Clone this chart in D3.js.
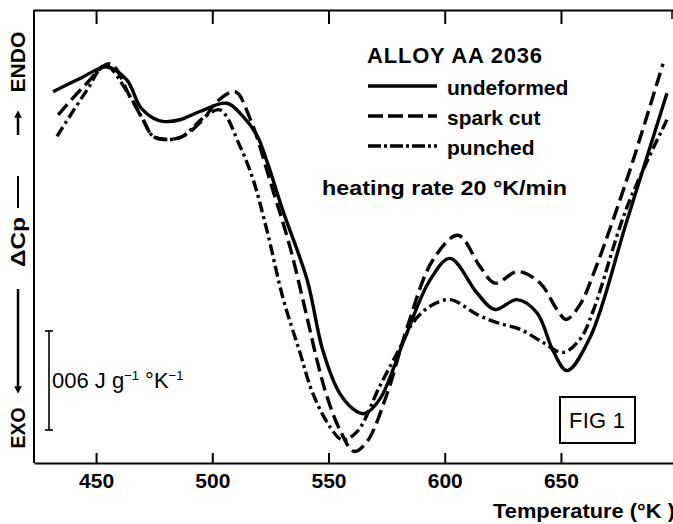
<!DOCTYPE html>
<html>
<head>
<meta charset="utf-8">
<script src="https://cdn.jsdelivr.net/npm/d3@7"></script>
<style>
  body { margin: 0; background: #fff; }
  svg { display: block; font-family: 'Liberation Sans', Arial, sans-serif; }
</style>
</head>
<body>
<div id="chart"></div>
<script>
// temperatures in K, delta Cp in J/g/K (arbitrary zero)
const xTicks = [450, 500, 550, 600, 650];
const seriesNames = ['undeformed', 'spark cut', 'punched'];

const undeformedT = [431.5, 443.1, 454.7, 463.3, 468.9, 474.5, 478.8, 486.1, 494.7, 506.3, 513.2,
  519.4, 523.7, 530.6, 540.8, 547.6, 554.9, 562.3, 565.7, 572.2, 582.9, 593.7, 602.3, 613.9,
  621.6, 631.1, 639.7, 646.6, 652.6, 662.5, 678.4, 695.6];
const undeformedCp = [0.225, 0.233, 0.240, 0.232, 0.216, 0.209, 0.207, 0.208, 0.213, 0.218, 0.210,
  0.198, 0.182, 0.152, 0.111, 0.068, 0.042, 0.031, 0.030, 0.039, 0.076, 0.111, 0.124, 0.103,
  0.093, 0.099, 0.091, 0.068, 0.056, 0.076, 0.147, 0.224];

const sparkCutT = [433.7, 445.3, 456.0, 464.6, 470.2, 474.5, 480.5, 487.4, 496.0, 502.0, 509.8,
  516.2, 525.7, 533.4, 540.8, 545.1, 549.4, 554.9, 561.0, 566.6, 575.2, 583.8, 594.9,
  605.7, 615.2, 621.6, 631.5, 641.0, 648.3, 652.2, 658.2, 663.8, 678.4, 693.9];
const sparkCutCp = [0.211, 0.229, 0.242, 0.222, 0.208, 0.198, 0.196, 0.198, 0.208, 0.219, 0.225,
  0.209, 0.167, 0.131, 0.088, 0.062, 0.040, 0.020, 0.007, 0.013, 0.042, 0.082, 0.123,
  0.138, 0.119, 0.109, 0.116, 0.109, 0.093, 0.087, 0.096, 0.114, 0.172, 0.242];

const punchedT = [433.2, 446.1, 453.9, 464.6, 470.2, 474.5, 480.5, 487.4, 496.0, 503.3, 511.9,
  517.5, 523.5, 530.4, 537.7, 543.3, 550.6, 556.0, 562.3, 572.2, 580.8, 586.3, 593.7, 602.3,
  613.9, 622.5, 632.4, 642.3, 650.9, 658.2, 663.8, 678.4, 695.6];
const punchedCp = [0.198, 0.226, 0.241, 0.222, 0.208, 0.198, 0.196, 0.198, 0.209, 0.214, 0.192,
  0.172, 0.141, 0.100, 0.067, 0.042, 0.022, 0.014, 0.019, 0.047, 0.070, 0.085, 0.095, 0.099,
  0.090, 0.085, 0.081, 0.073, 0.067, 0.075, 0.092, 0.155, 0.208];

const scaleBar = [0.02, 0.08]; // 0.06 J/g/K

var width = 673;
var height = 524;
// note: "top" is taken by window.top, so plot edges get their own names
var plotLeft = 34, plotRight = 673, plotTop = 10, plotBottom = 463;

var xScale = d3.scaleLinear()
  .domain([423.3, 698.2])
  .range([plotLeft, plotRight]);

var yScale = d3.scaleLinear()
  .domain([0, 0.2745])
  .range([plotBottom, plotTop]);

var dashes = ['none', '14,6', '11,4,3,4'];
var legendDashes = ['none', '15,5', '13,3,3,3'];

var series = [
  d3.zip(undeformedT, undeformedCp),
  d3.zip(sparkCutT, sparkCutCp),
  d3.zip(punchedT, punchedCp)
];

var svg = d3.select('#chart')
  .append('svg')
  .attr('width', width)
  .attr('height', height)
  .style('background-color', '#fff');

// frame
svg.append('line')
  .attr('x1', plotLeft).attr('x2', plotLeft)
  .attr('y1', plotTop).attr('y2', plotBottom)
  .attr('stroke', '#000').attr('stroke-width', 2);
svg.append('line')
  .attr('x1', 672).attr('x2', 672)
  .attr('y1', plotTop).attr('y2', plotTop + 9)
  .attr('stroke', '#000').attr('stroke-width', 1.5);

var xAxis = svg.append('g')
  .attr('transform', 'translate(0,' + plotBottom + ')')
  .call(d3.axisBottom(xScale)
    .tickValues(xTicks)
    .tickSizeInner(-10)
    .tickSizeOuter(0)
    .tickPadding(10));

var topAxis = svg.append('g')
  .attr('transform', 'translate(0,' + plotTop + ')')
  .call(d3.axisTop(xScale)
    .tickValues(xTicks)
    .tickSizeInner(-14)
    .tickSizeOuter(0)
    .tickFormat(''));

[xAxis, topAxis].forEach(function (g) {
  g.select('.domain').attr('stroke-width', 2);
  g.selectAll('.tick line').attr('stroke-width', 2);
});

xAxis.selectAll('.tick text')
  .attr('font-family', "'Liberation Sans', Arial, sans-serif")
  .attr('font-size', 21)
  .attr('font-weight', 'bold')
  .attr('fill', '#000');

svg.append('text')
  .attr('x', 493)
  .attr('y', 518)
  .attr('font-size', 20)
  .attr('font-weight', 'bold')
  .attr('textLength', 182)
  .attr('lengthAdjust', 'spacingAndGlyphs')
  .text('Temperature (°K )');

// curves
var line = d3.line()
  .x(function (d) { return xScale(d[0]); })
  .y(function (d) { return yScale(d[1]); })
  .curve(d3.curveCatmullRom.alpha(0.5));

svg.selectAll('path.curve')
  .data(series)
  .enter()
  .append('path')
  .attr('class', 'curve')
  .attr('d', line)
  .attr('fill', 'none')
  .attr('stroke', '#000')
  .attr('stroke-width', 3.4)
  .attr('stroke-linejoin', 'round')
  .attr('stroke-dasharray', function (d, i) { return dashes[i]; });

// y label, rotated
var yLab = svg.append('g').attr('font-weight', 'bold').attr('font-size', 21);
[['ENDO', 62, 61], ['ΔCp', 242, 50], ['EXO', 428, 41]].forEach(function (t) {
  yLab.append('text')
    .attr('transform', 'translate(25,' + t[1] + ') rotate(-90)')
    .attr('text-anchor', 'middle')
    .attr('textLength', t[2])
    .attr('lengthAdjust', 'spacingAndGlyphs')
    .text(t[0]);
});
svg.append('defs').append('marker')
  .attr('id', 'head')
  .attr('viewBox', '0 0 10 10')
  .attr('refX', 5).attr('refY', 5)
  .attr('markerWidth', 3).attr('markerHeight', 4)
  .attr('orient', 'auto')
  .append('path')
  .attr('d', 'M0,0 L10,5 L0,10 z')
  .attr('fill', '#000');
svg.append('line')
  .attr('x1', 18).attr('x2', 18).attr('y1', 135).attr('y2', 114)
  .attr('stroke', '#000').attr('stroke-width', 2.5)
  .attr('marker-end', 'url(#head)');
svg.append('line')
  .attr('x1', 18).attr('x2', 18).attr('y1', 176).attr('y2', 208)
  .attr('stroke', '#000').attr('stroke-width', 2);
svg.append('line')
  .attr('x1', 18).attr('x2', 18).attr('y1', 289).attr('y2', 390)
  .attr('stroke', '#000').attr('stroke-width', 2.5)
  .attr('marker-end', 'url(#head)');

// scale bar
var barX = 49;
var bar = svg.append('g').attr('stroke', '#000').attr('stroke-width', 1.6);
bar.append('line')
  .attr('x1', barX).attr('x2', barX)
  .attr('y1', yScale(scaleBar[0])).attr('y2', yScale(scaleBar[1]));
scaleBar.forEach(function (v) {
  bar.append('line')
    .attr('x1', barX - 4).attr('x2', barX + 4)
    .attr('y1', yScale(v)).attr('y2', yScale(v));
});
var barText = svg.append('text')
  .attr('x', 52)
  .attr('y', 388)
  .attr('font-size', 22);
barText.append('tspan').text('006 J g');
barText.append('tspan').attr('dy', -8).attr('font-size', 13).text('−1');
barText.append('tspan').attr('dy', 8).text(' °K');
barText.append('tspan').attr('dy', -8).attr('font-size', 13).text('−1');

// legend
svg.append('text')
  .attr('x', 367)
  .attr('y', 63)
  .attr('font-size', 22)
  .attr('font-weight', 'bold')
  .attr('textLength', 175)
  .attr('lengthAdjust', 'spacing')
  .text('ALLOY AA 2036');

var legendY = [86, 116, 146];
var legend = svg.selectAll('g.legend')
  .data(seriesNames)
  .enter()
  .append('g')
  .attr('class', 'legend')
  .attr('transform', function (d, i) { return 'translate(0,' + legendY[i] + ')'; });
legend.append('line')
  .attr('x1', 368).attr('x2', 437)
  .attr('stroke', '#000')
  .attr('stroke-width', 3.4)
  .attr('stroke-dasharray', function (d, i) { return legendDashes[i]; });
legend.append('text')
  .attr('x', 447)
  .attr('y', 9)
  .attr('font-size', 21)
  .attr('font-weight', 'bold')
  .text(function (d) { return d; });

svg.append('text')
  .attr('x', 322)
  .attr('y', 195)
  .attr('font-size', 20)
  .attr('font-weight', 'bold')
  .attr('textLength', 245)
  .attr('lengthAdjust', 'spacingAndGlyphs')
  .text('heating rate 20 °K/min');

// figure label
svg.append('rect')
  .attr('x', 560).attr('y', 397)
  .attr('width', 75).attr('height', 46)
  .attr('fill', 'none')
  .attr('stroke', '#000')
  .attr('stroke-width', 2);
svg.append('text')
  .attr('x', 569)
  .attr('y', 428)
  .attr('font-size', 22)
  .attr('textLength', 56)
  .text('FIG 1');
</script>
</body>
</html>
